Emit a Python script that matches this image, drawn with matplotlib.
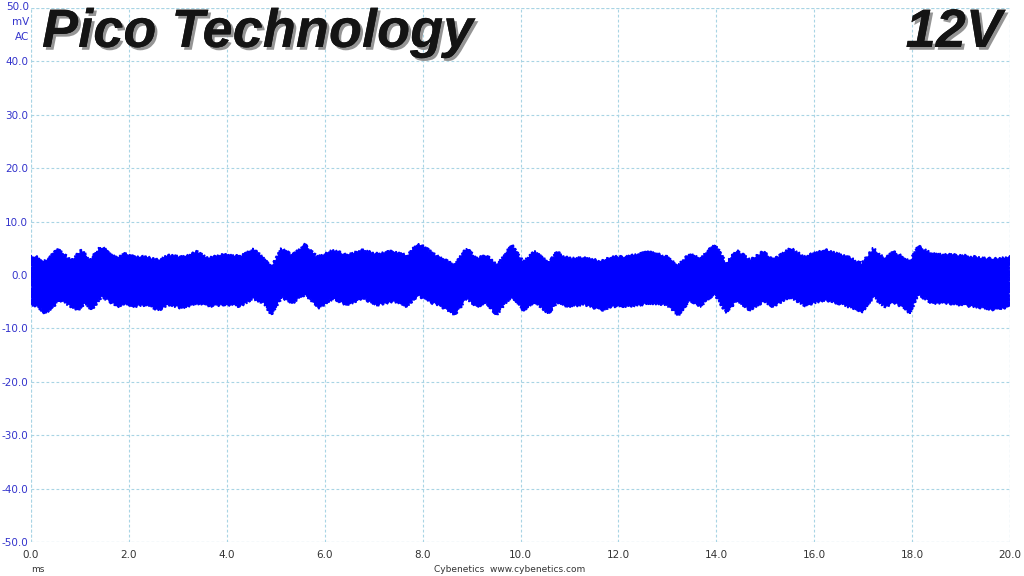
import matplotlib
matplotlib.use("Agg")
import matplotlib.pyplot as plt
import matplotlib.patheffects as pe
import numpy as np

# upper envelope of the AC ripple trace (ms, mV)
upper_t = [0.0, 0.12, 0.25, 0.35, 0.56, 0.73, 0.83, 1.04, 1.2, 1.41, 1.55, 1.75, 1.92, 2.12,
           2.33, 2.6, 2.8, 3.08, 3.38, 3.62, 3.9, 4.13, 4.27, 4.54, 4.75, 4.92, 5.12, 5.33,
           5.6, 5.84, 6.18, 6.45, 6.79, 7.06, 7.4, 7.68, 7.9, 8.12, 8.32, 8.66, 8.9, 9.1,
           9.31, 9.51, 9.82, 10.06, 10.3, 10.57, 10.74, 10.98, 11.32, 11.66, 11.85, 12.17,
           12.65, 12.99, 13.22, 13.46, 13.67, 13.97, 14.21, 14.42, 14.69, 14.96, 15.16,
           15.51, 15.8, 16.22, 16.49, 16.77, 16.97, 17.21, 17.45, 17.61, 17.78, 17.95,
           18.13, 18.41, 18.74, 19.08, 19.42, 19.69, 20.0]
upper_mv = [3.6, 3.4, 2.5, 3.1, 4.9, 3.4, 2.8, 4.7, 2.8, 5.2, 4.7, 3.1, 4.0, 3.4,
            3.4, 2.8, 3.7, 3.4, 4.4, 3.1, 3.8, 3.7, 3.4, 5.0, 3.1, 1.6, 5.0, 3.7,
            5.7, 3.4, 4.7, 3.7, 4.7, 4.0, 4.5, 3.6, 6.0, 4.7, 3.4, 1.9, 5.0, 3.1,
            3.7, 1.9, 5.6, 2.5, 4.5, 2.2, 4.3, 3.1, 3.2, 2.6, 3.4, 3.4,
            4.4, 3.4, 1.8, 4.0, 3.1, 5.7, 2.2, 4.7, 2.8, 4.4, 2.8,
            5.0, 3.5, 4.7, 4.0, 3.1, 2.1, 5.0, 3.0, 4.4, 3.6, 2.6,
            5.4, 4.0, 3.8, 3.6, 3.2, 3.0, 3.4]

# lower envelope of the AC ripple trace (ms, mV)
lower_t = [0.0, 0.12, 0.29, 0.42, 0.59, 0.76, 0.97, 1.1, 1.24, 1.44, 1.61, 1.78, 1.92, 2.12,
           2.4, 2.6, 2.8, 3.08, 3.38, 3.62, 3.93, 4.13, 4.27, 4.54, 4.75, 4.92, 5.12, 5.33,
           5.6, 5.87, 6.18, 6.45, 6.79, 7.06, 7.4, 7.68, 7.9, 8.12, 8.32, 8.66, 8.9, 9.1,
           9.31, 9.51, 9.82, 10.06, 10.3, 10.57, 10.74, 10.98, 11.32, 11.66, 11.85, 12.17,
           12.65, 12.99, 13.22, 13.46, 13.67, 13.97, 14.21, 14.42, 14.69, 14.96, 15.16,
           15.51, 15.8, 16.22, 16.49, 16.77, 16.97, 17.21, 17.45, 17.61, 17.78, 17.95,
           18.13, 18.41, 18.74, 19.08, 19.42, 19.69, 20.0]
lower_mv = [-5.6, -5.9, -7.2, -6.2, -4.7, -5.6, -6.6, -5.3, -6.6, -4.1, -5.0, -5.9, -5.3, -5.9,
            -5.6, -6.6, -5.6, -6.2, -5.3, -5.9, -5.6, -5.6, -5.9, -4.4, -5.3, -7.5, -4.1, -5.3,
            -3.6, -6.2, -4.4, -5.6, -4.4, -5.6, -5.0, -5.9, -3.8, -5.0, -5.6, -7.5, -4.4, -5.9,
            -5.3, -7.5, -3.9, -6.6, -5.0, -7.2, -5.3, -5.9, -5.6, -6.6, -5.9, -5.9,
            -5.3, -5.6, -7.5, -4.7, -5.9, -3.6, -7.2, -4.7, -6.6, -5.0, -5.9,
            -4.1, -5.7, -4.7, -5.3, -6.2, -7.0, -4.1, -6.1, -5.0, -5.9, -7.2,
            -3.7, -5.3, -5.3, -5.7, -6.1, -6.6, -5.9]

x_ticks = [0, 2, 4, 6, 8, 10, 12, 14, 16, 18, 20]
y_ticks = [-50, -40, -30, -20, -10, 0, 10, 20, 30, 40, 50]

fig = plt.figure(figsize=(10.24, 5.76), dpi=100)
ax = fig.add_axes([31/1024, 1 - 542/576, 979/1024, 534/576])

poly_x = list(upper_t) + list(lower_t[::-1])
poly_y = list(upper_mv) + list(lower_mv[::-1])
patches = ax.fill(poly_x, poly_y, color="#0000ff", linewidth=1.0, edgecolor="#0000ff", zorder=3)
for p in patches:
    p.set_sketch_params(scale=1.3, length=2.5, randomness=3)

ax.set_xlim(0, 20)
ax.set_ylim(-50, 50)
ax.set_xticks(x_ticks)
ax.set_yticks(y_ticks)
ax.set_xticklabels([f"{v:.1f}" for v in x_ticks], fontsize=7.5, color="#333333")
ax.set_yticklabels([f"{v:.1f}" if v != 50 else "" for v in y_ticks],
                   fontsize=7.5, color="#3333cc")
ax.tick_params(length=0, pad=2)
ax.tick_params(axis="x", pad=6)
for s in ax.spines.values():
    s.set_visible(False)
grid_kw = dict(color="#a8d4e4", linestyle=(0, (2.5, 2)), linewidth=0.8, zorder=0)
ax.grid(True, **grid_kw)
for v in [0, 20]:
    ax.axvline(v, **grid_kw)
for v in [-50, 50]:
    ax.axhline(v, **grid_kw)

# y-axis header labels
fig.text(29/1024, 1 - 7/576, "50.0", ha="right", va="center", fontsize=7.5, color="#3333cc")
fig.text(29/1024, 1 - 22/576, "mV", ha="right", va="center", fontsize=7.5, color="#3333cc")
fig.text(29/1024, 1 - 37/576, "AC", ha="right", va="center", fontsize=7.5, color="#3333cc")

shadow = [pe.withSimplePatchShadow(offset=(2, -2), shadow_rgbFace="#8a8a8a", alpha=0.9),
          pe.Normal()]
fig.text(42/1024, 1 - 33/576, "Pico Technology", ha="left", va="center",
         fontsize=39, fontweight="bold", fontstyle="italic", family="Liberation Sans",
         color="#141414", path_effects=shadow)
fig.text(1002/1024, 1 - 33/576, "12V", ha="right", va="center",
         fontsize=39, fontweight="bold", fontstyle="italic", family="Liberation Sans",
         color="#141414", path_effects=shadow)

fig.text(38/1024, 1 - 569/576, "ms", ha="center", va="center", fontsize=6.5, color="#333333")
fig.text(510/1024, 1 - 569/576, "Cybenetics  www.cybenetics.com", ha="center", va="center",
         fontsize=6.5, color="#333333")

fig.savefig("out.png", dpi=100)
